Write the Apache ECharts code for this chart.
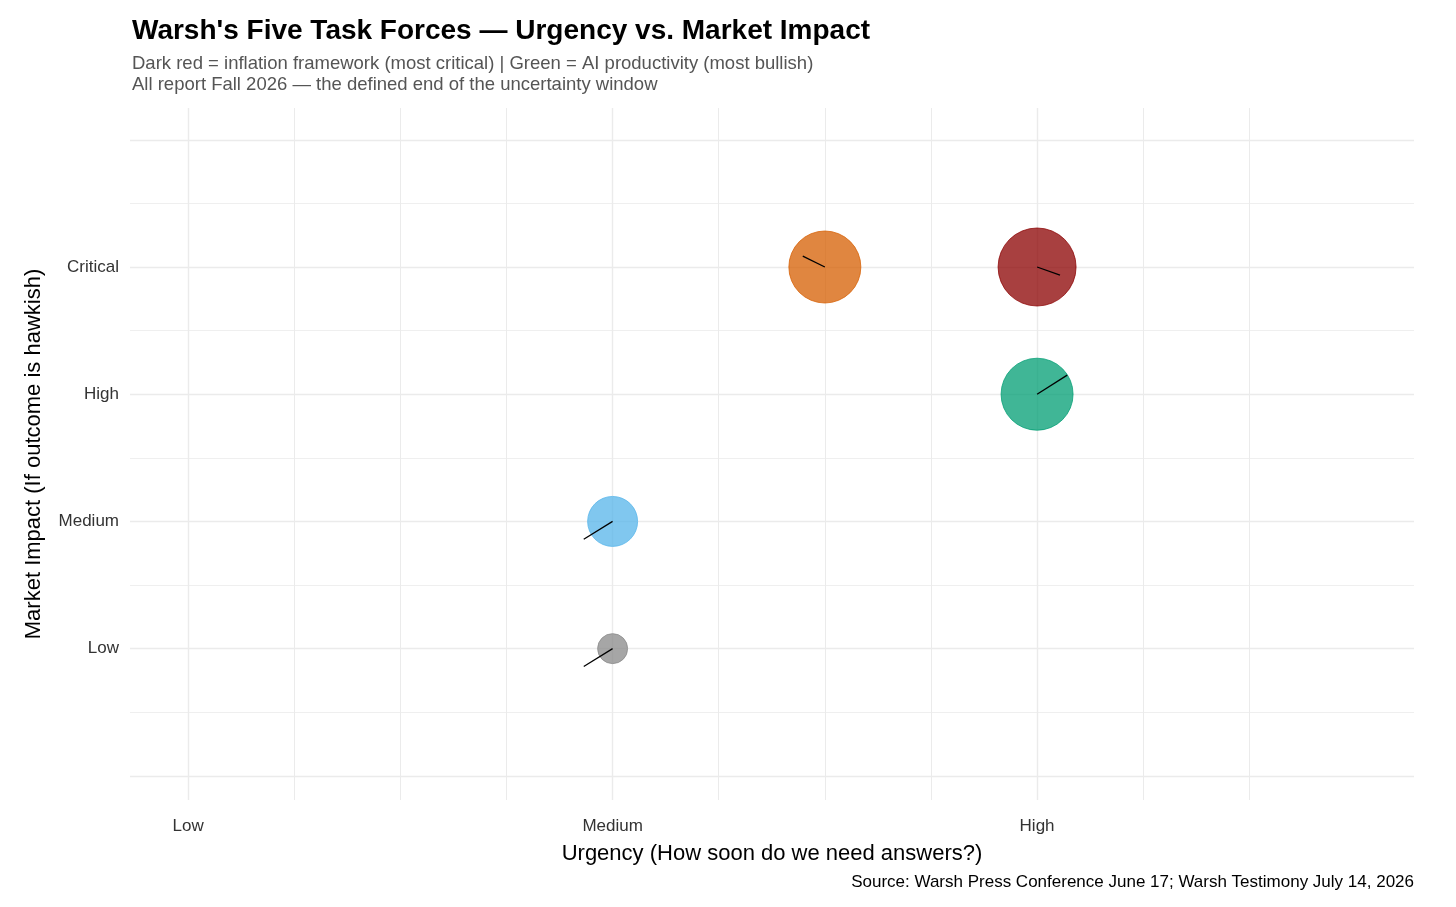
<!DOCTYPE html>
<html>
<head>
<meta charset="utf-8">
<script src="https://cdn.jsdelivr.net/npm/echarts@6/dist/echarts.min.js"></script>
<style>html,body{margin:0;padding:0;background:#fff}#chart{width:1456px;height:907px}</style>
</head>
<body>
<div id="chart"></div>
<script>
const names = ['1. Communications', '2. Balance Sheet', '3. Data & Methods', '4. Productivity & AI', '5. Inflation Framework'];
const urgency = [2, 2.5, 2, 3, 3];
const impact = [2, 4, 1, 3, 4];
const sizes = [50, 72, 30, 72, 78];
const colors = ['#56B4E9', '#D55E00', '#888888', '#009E73', '#8B0000'];
// label offsets in px, leader-line end offsets in data units
const labelShift = [[-54, 30], [-112, -14], [-54, 31], [54, -28], [138, 9]];
const leaderEnd = [[-0.068, -0.14], [-0.052, 0.086], [-0.068, -0.14], [0.071, 0.15], [0.054, -0.063]];
const xTickLabels = ['Low', 'Medium', 'High'];
const yTickLabels = ['Low', 'Medium', 'High', 'Critical'];
const xGrid = [1, 1.25, 1.5, 1.75, 2, 2.25, 2.5, 2.75, 3, 3.25, 3.5];
const yGrid = [0, 0.5, 1, 1.5, 2, 2.5, 3, 3.5, 4, 4.5, 5];

const font = 'Liberation Sans';
const chart = echarts.init(document.getElementById('chart'));

const gridLines = [];
xGrid.forEach(v => gridLines.push({ xAxis: v, lineStyle: { width: Number.isInteger(v) ? 1.4 : 1 } }));
yGrid.forEach(v => gridLines.push({ yAxis: v, lineStyle: { width: Number.isInteger(v) ? 1.4 : 0.8 } }));

chart.setOption({
  backgroundColor: '#fff',
  textStyle: { fontFamily: font },
  title: {
    left: 127, top: 12,
    text: "Warsh's Five Task Forces \u2014 Urgency vs. Market Impact",
    textStyle: { fontSize: 28, fontWeight: 'bold', color: '#000', fontFamily: font },
    subtext: 'Dark red = inflation framework (most critical) | Green = AI productivity (most bullish)\nAll report Fall 2026 \u2014 the defined end of the uncertainty window',
    subtextStyle: { fontSize: 18.5, color: '#555', lineHeight: 21, fontFamily: font },
    itemGap: 8
  },
  graphic: [{
    type: 'text', right: 42, top: 874,
    style: { text: 'Source: Warsh Press Conference June 17; Warsh Testimony July 14, 2026', fontSize: 17, fill: '#000', fontFamily: font }
  }],
  grid: { left: 130, right: 42, top: 108, bottom: 107 },
  xAxis: {
    type: 'value', min: 0.863, max: 3.888,
    name: 'Urgency (How soon do we need answers?)', nameLocation: 'middle', nameGap: 43,
    nameTextStyle: { fontSize: 22, color: '#000', fontFamily: font },
    axisLine: { show: false }, axisTick: { show: false }, splitLine: { show: false },
    axisLabel: { customValues: [1, 2, 3], fontSize: 17, color: '#333', margin: 18,
      formatter: v => xTickLabels[Math.round(v) - 1] || '' }
  },
  yAxis: {
    type: 'value', min: -0.19, max: 5.25,
    name: 'Market Impact (If outcome is hawkish)', nameLocation: 'middle', nameGap: 85,
    nameTextStyle: { fontSize: 22, color: '#000', fontFamily: font },
    axisLine: { show: false }, axisTick: { show: false }, splitLine: { show: false },
    axisLabel: { customValues: [1, 2, 3, 4], fontSize: 17, color: '#333', margin: 11,
      formatter: v => yTickLabels[Math.round(v) - 1] || '' }
  },
  series: [
    {
      type: 'scatter', data: [], silent: true, z: 0,
      markLine: { silent: true, symbol: 'none', label: { show: false }, z: 0,
        lineStyle: { color: '#ebebeb', type: 'solid' }, data: gridLines, animation: false }
    },
    {
      type: 'scatter', z: 3,
      data: names.map((n, i) => ({
        name: n, value: [urgency[i], impact[i]], symbolSize: sizes[i],
        itemStyle: { color: colors[i], opacity: 0.75, borderColor: colors[i], borderWidth: 1 }
      })),
      label: { show: false },
      animation: false
    },
    {
      type: 'lines', coordinateSystem: 'cartesian2d', z: 4, silent: true,
      lineStyle: { color: '#000', width: 1.3, opacity: 1 },
      data: names.map((n, i) => ({
        coords: [[urgency[i], impact[i]], [urgency[i] + leaderEnd[i][0], impact[i] + leaderEnd[i][1]]]
      })),
      animation: false
    },
    {
      type: 'scatter', z: 5, silent: true, symbolSize: 1,
      itemStyle: { opacity: 0 },
      data: names.map((n, i) => ({ name: n, value: [urgency[i], impact[i]] })),
      label: { show: true, position: 'inside', formatter: '{b}', fontSize: 21, fontWeight: 'bold', color: '#222', fontFamily: font },
      labelLayout: p => ({ dx: labelShift[p.dataIndex][0], dy: labelShift[p.dataIndex][1] }),
      animation: false
    }
  ]
});
</script>
</body>
</html>
